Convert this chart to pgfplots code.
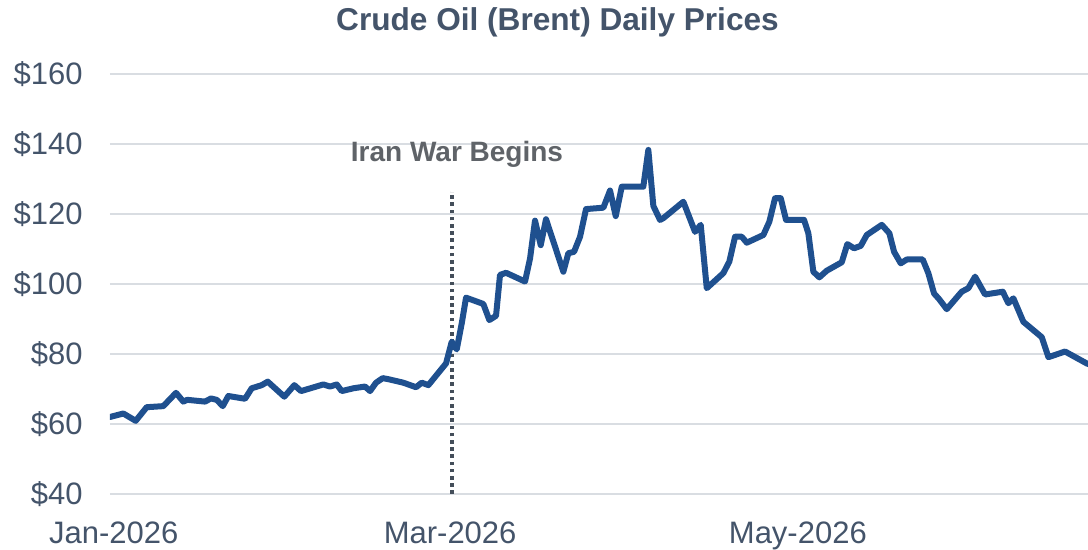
\documentclass[border=0pt]{standalone}
\usepackage{pgfplots}
\pgfplotsset{compat=1.18}
\usepackage{fontspec}
\setmainfont{Liberation Sans}
\definecolor{linecol}{RGB}{31,80,143}
\definecolor{slate}{RGB}{68,84,106}
\definecolor{annot}{RGB}{95,99,104}
\definecolor{dotcol}{RGB}{68,78,90}
\definecolor{gridcol}{RGB}{217,221,226}
\begin{document}
\begin{tikzpicture}
\useasboundingbox (-55pt,-28pt) rectangle (489pt,247pt);
\begin{axis}[
  at={(0pt,0pt)}, anchor=south west,
  scale only axis, width=489pt, height=210pt,
  xmin=-0.67, xmax=170.9, ymin=40, ymax=160,
  axis line style={draw=none},
  tick style={draw=none},
  ymajorgrids, grid style={gridcol, line width=1pt},
  ytick={40,60,80,100,120,140,160},
  yticklabels={\$40,\$60,\$80,\$100,\$120,\$140,\$160},
  xtick={0,59,120},
  xticklabels={Jan-2026,Mar-2026,May-2026},
  ticklabel style={font=\fontsize{15.5}{18}\selectfont, text=slate},
  yticklabel style={anchor=east, inner sep=0pt, xshift=-13.5pt},
  xticklabel style={anchor=base, inner sep=0pt, yshift=-25pt},
  clip=true,
]
\addplot[dotcol, line width=1.8pt, dash pattern=on 1.8pt off 1.8pt] coordinates {(59.28,40) (59.28,126.4)};
\addplot[linecol, line width=3pt, line join=round, line cap=round] coordinates {
(-0.67,62.0) (1.67,63.0) (3.84,60.9) (5.77,64.8) (8.68,65.1) (10.91,68.9) (12.19,66.4)
(12.89,66.9) (16.0,66.4) (17.05,67.3) (18.05,66.9) (19.11,65.1) (20.09,68.0) (23.02,67.2)
(24.19,70.2) (25.95,71.1) (27.0,72.1) (29.91,67.8) (31.67,71.1) (32.84,69.4) (36.75,71.3)
(37.93,70.7) (39.11,71.3) (39.98,69.4) (42.02,70.2) (44.07,70.7) (44.95,69.4) (46.0,71.8)
(47.18,73.1) (48.16,72.8) (50.79,71.8) (53.02,70.5) (54.02,71.8) (55.18,71.1) (58.28,77.3)
(59.28,83.5) (60.16,81.3) (61.04,88.8) (61.79,96.1) (64.82,94.3) (65.88,89.7) (67.05,90.9)
(67.75,102.6) (68.81,103.2) (72.14,100.7) (73.02,107.3) (73.89,118.1) (74.89,111.1) (75.82,118.5)
(78.86,103.5) (79.74,108.8) (80.74,109.2) (81.79,113.5) (82.84,121.4) (85.88,121.8) (87.05,126.7)
(88.05,119.4) (89.11,127.8) (92.89,127.8) (93.77,138.3) (94.65,122.3) (95.82,118.3) (96.40,118.8)
(99.91,123.5) (101.96,114.9) (102.96,116.9) (104.02,98.8) (106.93,103.1) (107.98,106.4) (108.98,113.5)
(110.16,113.5) (111.04,111.8) (113.95,114.0) (115.0,117.8) (116.0,124.5) (117.0,124.5) (117.93,118.3)
(121.09,118.3) (121.84,114.5) (122.72,103.5) (123.77,101.9) (125.07,103.8) (127.7,106.2) (128.68,111.4)
(129.86,110.2) (131.04,110.9) (132.09,114.0) (134.72,116.9) (136.05,114.5) (136.88,109.2) (138.05,105.9)
(139.11,107.0) (141.91,107.0) (142.89,103.1) (143.89,97.3) (144.82,95.6) (146.12,92.8) (148.75,97.8)
(149.91,98.8) (151.09,102.1) (152.84,97.0) (155.95,97.8) (156.93,94.5) (157.81,95.9) (159.56,89.2)
(162.79,84.8) (163.95,79.1) (166.88,80.7) (170.68,77.3) (171.2,77.0)
};
\node[anchor=base, font=\fontsize{14}{16}\selectfont\bfseries, text=annot] at (axis cs:60.2,135.1) {Iran War Begins};
\end{axis}
\node[anchor=base, font=\fontsize{15.8}{18}\selectfont\bfseries, text=slate] at (223.75pt,231.5pt) {Crude Oil (Brent) Daily Prices};
\end{tikzpicture}
\end{document}
